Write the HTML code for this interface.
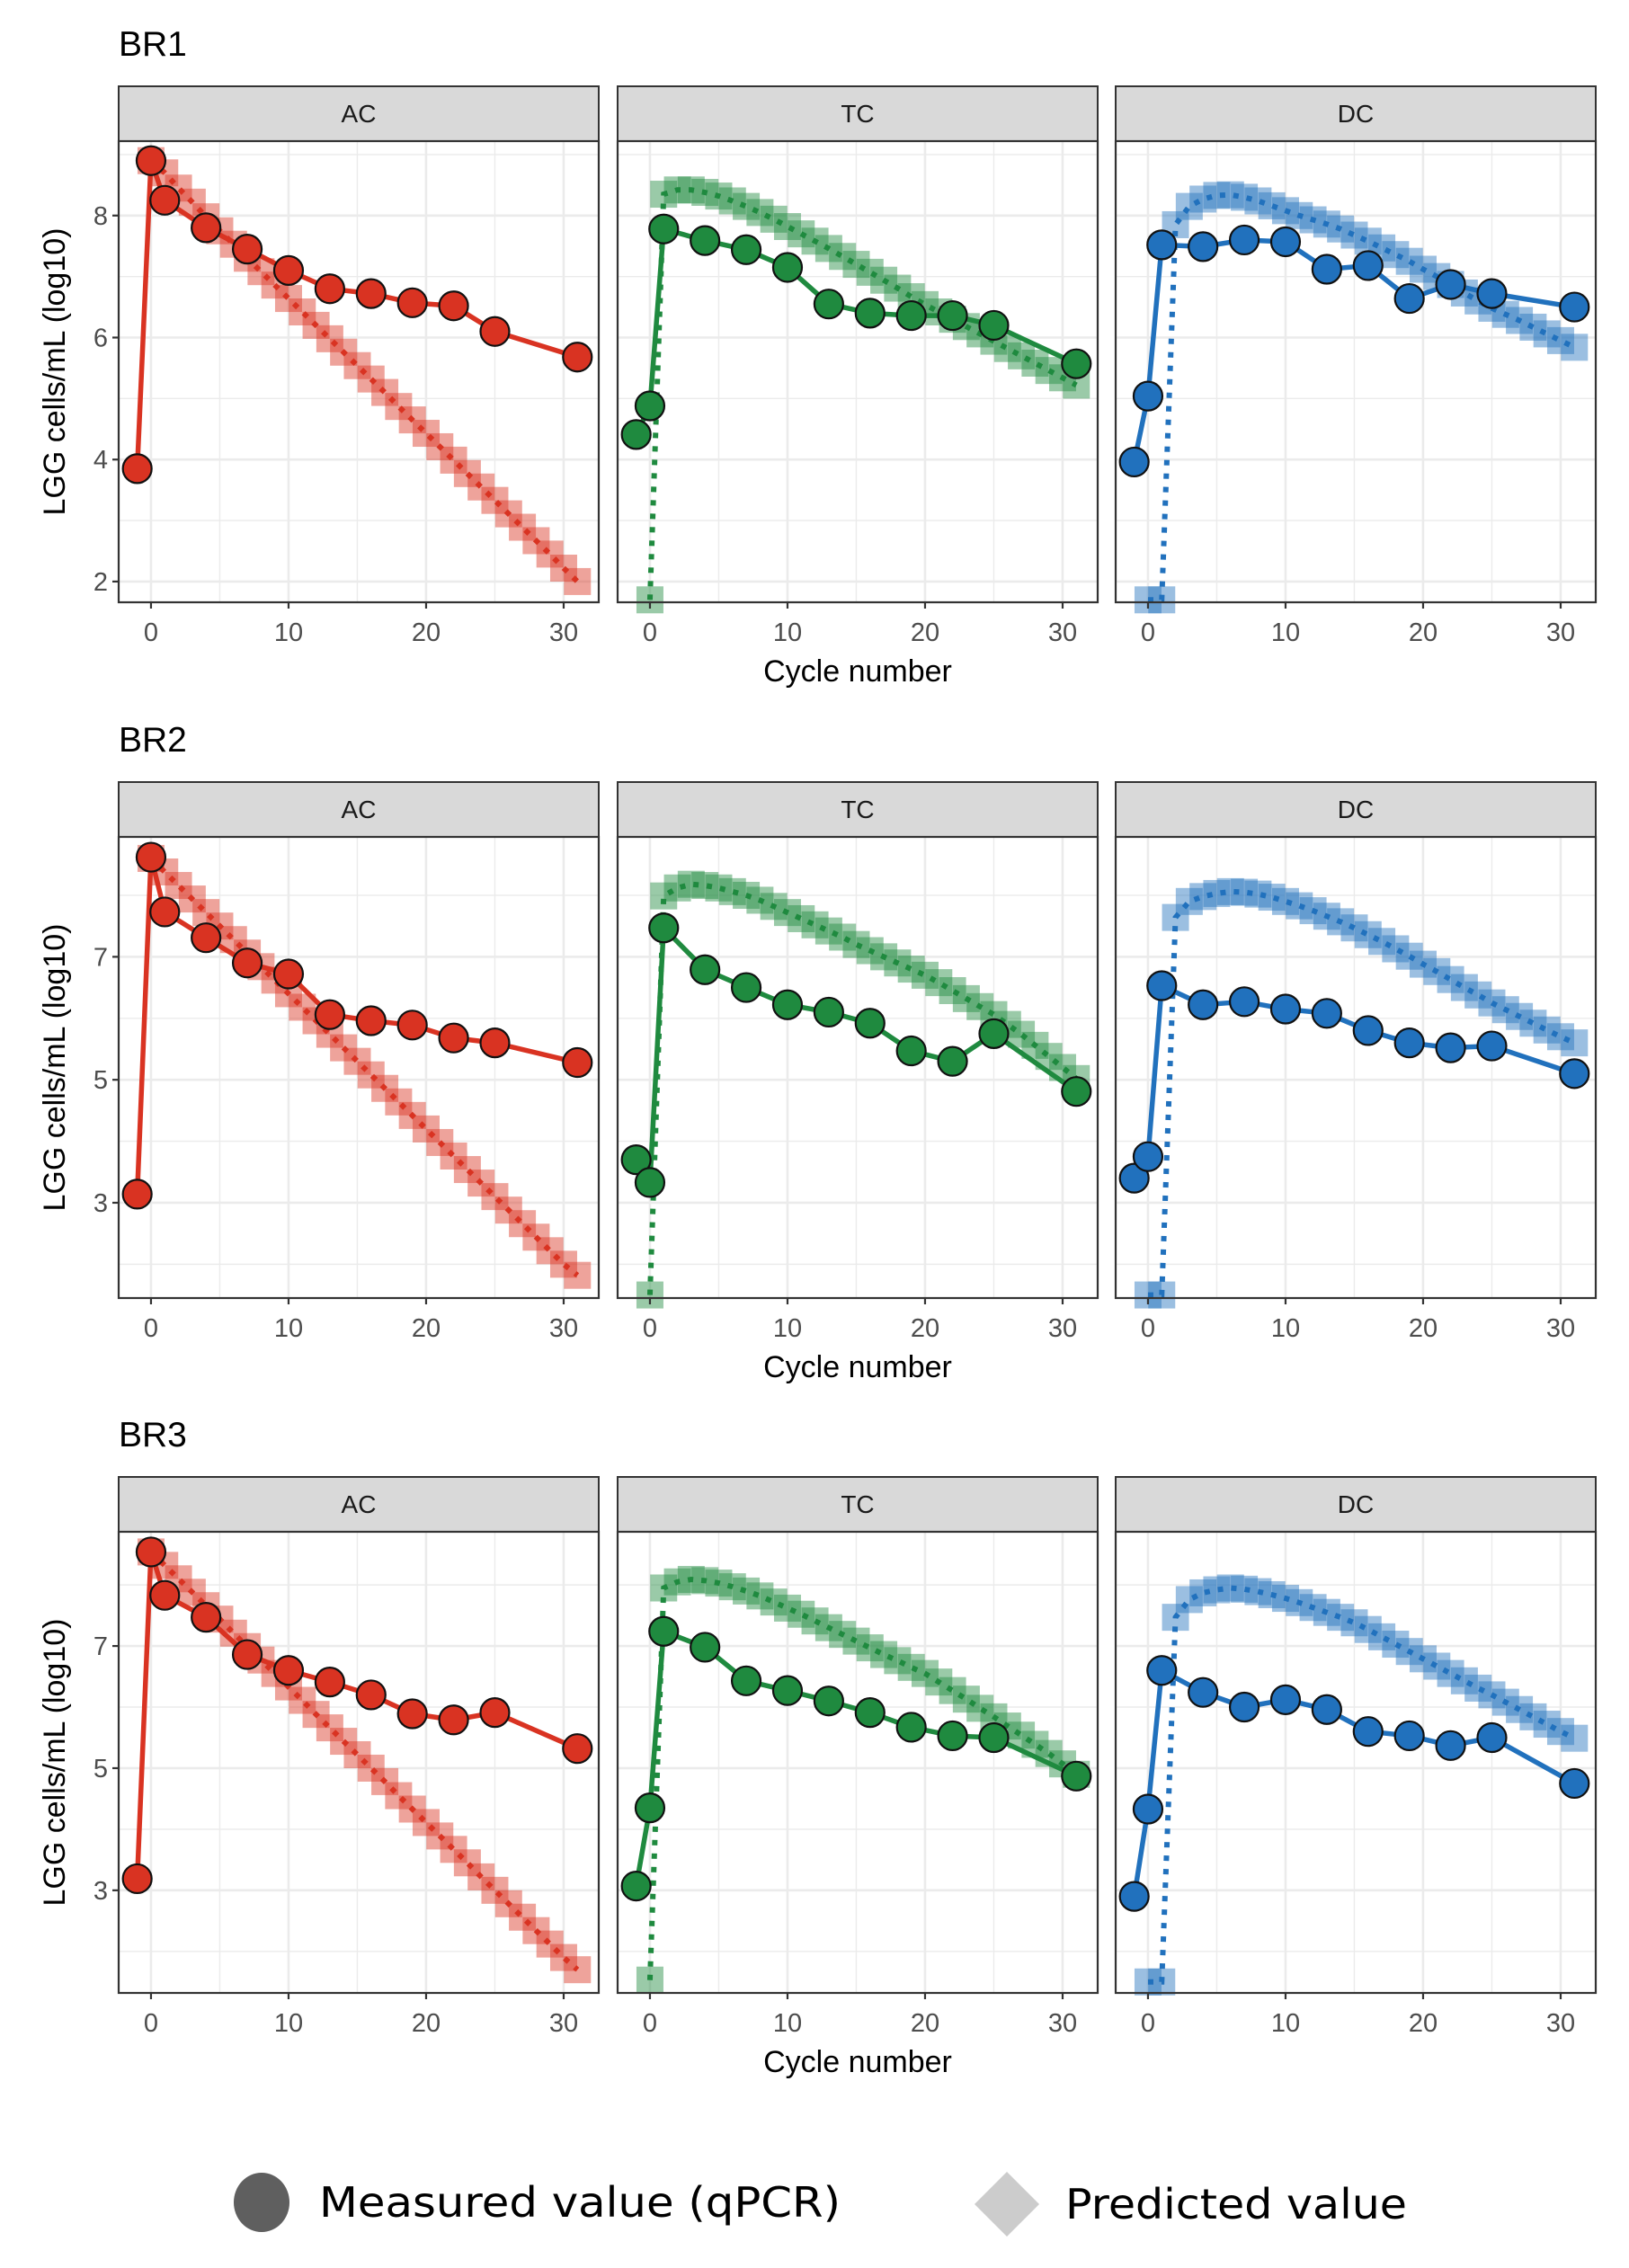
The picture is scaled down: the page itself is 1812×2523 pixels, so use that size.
<!DOCTYPE html>
<html><head><meta charset="utf-8"><style>
html,body{margin:0;padding:0;background:#fff;}
svg{display:block;font-family:"Liberation Sans",Arial,sans-serif;}
</style></head><body>
<svg id="chart" width="1812" height="2523" viewBox="0 0 1812 2523" xmlns="http://www.w3.org/2000/svg">
<g id="plots"></g>
<g>
  <ellipse cx="291" cy="2450" rx="31" ry="33" fill="#5f5f5f"/>
  <text x="355" y="2466" font-family="DejaVu Sans, sans-serif" font-size="46" fill="#000" textLength="580" lengthAdjust="spacingAndGlyphs">Measured value (qPCR)</text>
  <polygon points="1120,2416 1156,2452 1120,2488 1084,2452" fill="#cccccc"/>
  <text x="1185" y="2468" font-family="DejaVu Sans, sans-serif" font-size="46" fill="#000" textLength="380" lengthAdjust="spacingAndGlyphs">Predicted value</text>
</g>
</svg>
<script>
// ---- data ----
const rowNames = ["BR1","BR2","BR3"];
const colNames = ["AC","TC","DC"];
const measX = [-1,0,1,4,7,10,13,16,19,22,25,31];
const predX = [0,1,2,3,4,5,6,7,8,9,10,11,12,13,14,15,16,17,18,19,20,21,22,23,24,25,26,27,28,29,30,31];
const xTicks = [0,10,20,30];
const yTicksBR1 = [2,4,6,8];
const yTicksBR2 = [3,5,7];
const yTicksBR3 = [3,5,7];

const measBR1AC = [3.85,8.9,8.25,7.8,7.45,7.1,6.8,6.72,6.57,6.52,6.1,5.68];
const measBR1TC = [4.41,4.88,7.78,7.59,7.44,7.15,6.55,6.4,6.36,6.36,6.2,5.57];
const measBR1DC = [3.96,5.04,7.52,7.49,7.6,7.57,7.12,7.18,6.64,6.87,6.72,6.5];
const measBR2AC = [3.14,8.62,7.73,7.31,6.9,6.72,6.06,5.96,5.89,5.68,5.6,5.28];
const measBR2TC = [3.7,3.33,7.47,6.79,6.5,6.22,6.1,5.92,5.47,5.3,5.75,4.81];
const measBR2DC = [3.4,3.75,6.53,6.22,6.27,6.15,6.08,5.8,5.6,5.52,5.55,5.1];
const measBR3AC = [3.19,8.54,7.83,7.47,6.86,6.6,6.41,6.2,5.89,5.79,5.91,5.32];
const measBR3TC = [3.07,4.35,7.24,6.98,6.43,6.27,6.1,5.91,5.67,5.53,5.5,4.87];
const measBR3DC = [2.9,4.33,6.6,6.24,6.0,6.12,5.96,5.6,5.53,5.37,5.5,4.75];

const predBR1AC = [8.9,8.7,8.45,8.22,7.98,7.75,7.53,7.3,7.08,6.86,6.64,6.42,6.2,5.98,5.76,5.54,5.32,5.1,4.87,4.65,4.43,4.21,3.99,3.77,3.55,3.33,3.11,2.89,2.67,2.45,2.22,2.0];
const predBR1TC = [1.7,8.35,8.42,8.42,8.38,8.32,8.24,8.15,8.05,7.94,7.82,7.7,7.58,7.46,7.33,7.2,7.07,6.94,6.81,6.67,6.54,6.42,6.3,6.18,6.06,5.94,5.82,5.7,5.58,5.46,5.34,5.22];
const predBR1DC = [1.7,1.7,7.85,8.15,8.27,8.33,8.34,8.3,8.24,8.16,8.08,8.0,7.93,7.86,7.78,7.68,7.58,7.47,7.36,7.25,7.12,7.0,6.87,6.73,6.6,6.48,6.38,6.28,6.17,6.06,5.95,5.84];
const predBR2AC = [8.6,8.38,8.16,7.94,7.72,7.5,7.28,7.06,6.84,6.62,6.4,6.18,5.96,5.74,5.52,5.3,5.08,4.86,4.64,4.42,4.2,3.98,3.76,3.54,3.32,3.1,2.88,2.66,2.44,2.22,2.0,1.82];
const predBR2TC = [1.5,7.99,8.12,8.18,8.16,8.12,8.06,8.0,7.92,7.82,7.72,7.62,7.52,7.42,7.32,7.2,7.1,7.0,6.9,6.8,6.7,6.58,6.45,6.32,6.19,6.06,5.9,5.74,5.56,5.38,5.2,5.02];
const predBR2DC = [1.5,1.5,7.64,7.9,7.98,8.03,8.06,8.05,8.02,7.97,7.9,7.83,7.75,7.66,7.57,7.47,7.36,7.25,7.13,7.01,6.88,6.76,6.63,6.5,6.38,6.25,6.14,6.03,5.92,5.81,5.7,5.6];
const predBR3AC = [8.54,8.32,8.1,7.88,7.66,7.44,7.21,6.99,6.77,6.55,6.33,6.11,5.88,5.66,5.44,5.22,5.0,4.78,4.55,4.33,4.11,3.89,3.67,3.45,3.22,3.0,2.78,2.56,2.34,2.12,1.9,1.7];
const predBR3TC = [1.53,7.95,8.05,8.09,8.07,8.03,7.97,7.9,7.82,7.72,7.62,7.52,7.41,7.3,7.19,7.08,6.97,6.86,6.76,6.65,6.55,6.41,6.27,6.13,5.98,5.84,5.69,5.54,5.39,5.24,5.07,4.9];
const predBR3DC = [1.5,1.5,7.47,7.76,7.87,7.92,7.95,7.93,7.89,7.84,7.78,7.71,7.63,7.55,7.47,7.38,7.27,7.15,7.03,6.91,6.79,6.67,6.55,6.43,6.31,6.2,6.08,5.96,5.84,5.72,5.6,5.49];

const measAll = [[measBR1AC,measBR1TC,measBR1DC],[measBR2AC,measBR2TC,measBR2DC],[measBR3AC,measBR3TC,measBR3DC]];
const predAll = [[predBR1AC,predBR1TC,predBR1DC],[predBR2AC,predBR2TC,predBR2DC],[predBR3AC,predBR3TC,predBR3DC]];
const yTicksAll = [yTicksBR1,yTicksBR2,yTicksBR3];
const yDomains = [[1.66,9.22],[1.45,8.95],[1.32,8.87]];
const xDomain = [-2.35,32.55];

// ---- layout ----
const NS="http://www.w3.org/2000/svg";
const colLeft=[132,687,1241], panelW=534;
const rowTop=[96,870,1643], stripH=61, panelH=513;
const colors=["#d93322","#1f8a3f","#2171bd"];
const root=document.getElementById('plots');
function mk(tag,attrs,parent){const e=document.createElementNS(NS,tag);for(const k in attrs)e.setAttribute(k,attrs[k]);(parent||root).appendChild(e);return e;}

for(let r=0;r<3;r++){
  const g=mk('g',{});
  
  
  const t=mk('text',{x:132,y:rowTop[r]-34,'font-size':39,fill:'#000'},g);
  t.textContent=rowNames[r];
  
  
  const pTop=rowTop[r]+stripH, pBot=pTop+panelH;
  const yd=yDomains[r];
  const ys=v=>pBot-(v-yd[0])/(yd[1]-yd[0])*panelH;
  const yt=mk('text',{x:0,y:0,'font-size':34,fill:'#000','text-anchor':'middle',transform:`translate(72,${(pTop+pBot)/2}) rotate(-90)`},g);
  yt.textContent='LGG cells/mL (log10)';
  
  
  const xt=mk('text',{x:(colLeft[1]+panelW/2),y:pBot+88,'font-size':34,fill:'#000','text-anchor':'middle'},g);
  xt.textContent='Cycle number';
  
  
  for(let c=0;c<3;c++){
    const L=colLeft[c], R=L+panelW;
    const xs=v=>L+(v-xDomain[0])/(xDomain[1]-xDomain[0])*panelW;
    const pg=mk('g',{},g);
    
    
    const st=mk('rect',{x:L,y:rowTop[r],width:panelW,height:stripH,fill:'#d9d9d9',stroke:'#333',"stroke-width":2},pg);
    
    
    const stt=mk('text',{x:(L+R)/2,y:rowTop[r]+40,'font-size':28,fill:'#1a1a1a','text-anchor':'middle'},pg);
    stt.textContent=colNames[c];
    
    
    mk('rect',{x:L,y:pTop,width:panelW,height:panelH,fill:'#fff'},pg);
    const yt0=yTicksAll[r];
    const step=yt0[1]-yt0[0];
    for(let v=Math.floor(yd[0]);v<=yd[1];v+=step/2){
      if(v<yd[0])continue;
      const major=yt0.includes(v);
      const gl=mk('line',{x1:L,x2:R,y1:ys(v),y2:ys(v),stroke:'#ebebeb','stroke-width':major?2.6:1.4},pg);
      
      
    }
    for(let v=-5;v<=35;v+=5){
      if(v<xDomain[0]||v>xDomain[1])continue;
      const major=xTicks.includes(v);
      const gl=mk('line',{x1:xs(v),x2:xs(v),y1:pTop,y2:pBot,stroke:'#ebebeb','stroke-width':major?2.6:1.4},pg);
      
      
    }
    const pv=predAll[r][c], col=colors[c];
    pv.forEach((v,i)=>{
      const sq=mk('rect',{x:xs(predX[i])-15,y:ys(v)-15,width:30,height:30,fill:col,'fill-opacity':0.45},pg);
      
      
    });
    const pl=mk('polyline',{points:pv.map((v,i)=>xs(predX[i])+','+ys(v)).join(' '),fill:'none',stroke:col,'stroke-width':6,'stroke-dasharray':'6 9'},pg);
    
    
    const mv=measAll[r][c];
    const ml=mk('polyline',{points:mv.map((v,i)=>xs(measX[i])+','+ys(v)).join(' '),fill:'none',stroke:col,'stroke-width':5.5,'stroke-linejoin':'round'},pg);
    
    
    mv.forEach((v,i)=>{
      const ci=mk('circle',{cx:xs(measX[i]),cy:ys(v),r:16,fill:col,stroke:'#111','stroke-width':2.2},pg);
      
      
    });
    const br=mk('rect',{x:L,y:pTop,width:panelW,height:panelH,fill:'none',stroke:'#333','stroke-width':2.2},pg);
    
    
    xTicks.forEach(v=>{
      mk('line',{x1:xs(v),x2:xs(v),y1:pBot,y2:pBot+7,stroke:'#333','stroke-width':2.2},pg);
      const tl=mk('text',{x:xs(v),y:pBot+43,'font-size':29,fill:'#4d4d4d','text-anchor':'middle'},pg);
      tl.textContent=v;
      
      
    });
    if(c===0){
      yt0.forEach(v=>{
        mk('line',{x1:L-7,x2:L,y1:ys(v),y2:ys(v),stroke:'#333','stroke-width':2.2},pg);
        const tl=mk('text',{x:L-12,y:ys(v)+10,'font-size':29,fill:'#4d4d4d','text-anchor':'end'},pg);
        tl.textContent=v;
        
        
      });
    }
  }
}
</script>
</body></html>
